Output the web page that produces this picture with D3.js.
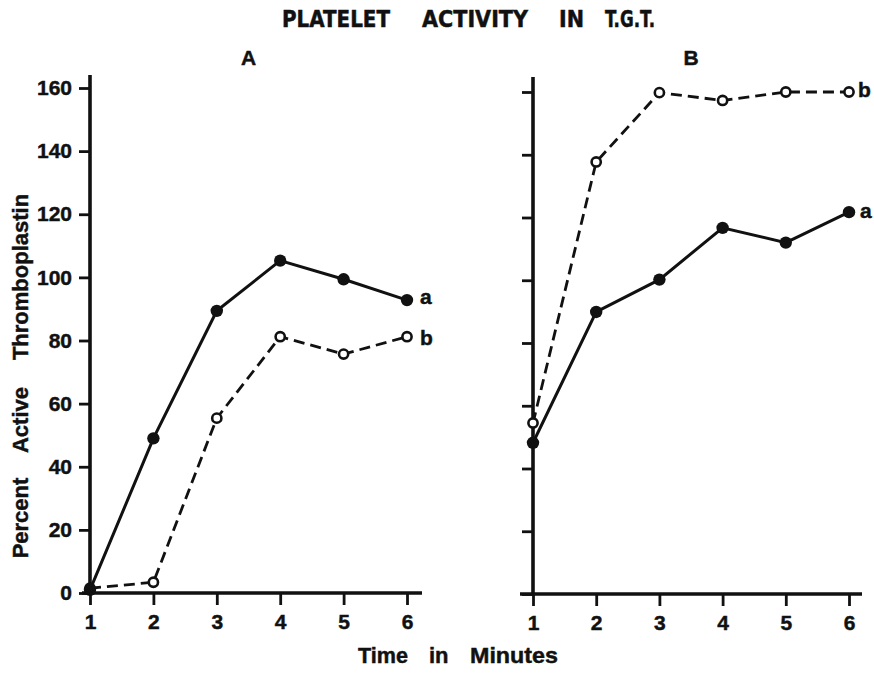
<!DOCTYPE html>
<html>
<head>
<meta charset="utf-8">
<script src="https://cdn.jsdelivr.net/npm/d3@7"></script>
<style>
  html, body { margin: 0; padding: 0; background: #fff; }
  svg { display: block; }
  text { fill: #111; stroke: #111; stroke-width: 0.45px; font-family: "Liberation Sans", Arial, Helvetica, sans-serif; font-weight: bold; }
</style>
</head>
<body>
<svg id="chart" width="874" height="676"></svg>
<script>
// Time (minutes) at which each sample was taken
const minutes = [1, 2, 3, 4, 5, 6];
const yTicks = [0, 20, 40, 60, 80, 100, 120, 140, 160];

// Percent active thromboplastin, panel A
const panelA_a = [1.0, 49.0, 89.4, 105.3, 99.4, 92.8];
const panelA_b = [1.5, 3.4, 55.4, 81.2, 75.7, 81.2];

// Percent active thromboplastin, panel B
const panelB_a = [48.2, 89.9, 100.2, 116.7, 112.0, 121.7];
const panelB_b = [54.5, 137.7, 159.8, 157.3, 160.0, 160.0];

const titleWords = ["PLATELET", "ACTIVITY", "IN", "T.G.T."];
const xLabelWords = ["Time", "in", "Minutes"];
const yLabelWords = ["Percent", "Active", "Thromboplastin"];

const svg = d3.select("#chart");
const ink = "#111";

// Title, word by word with wide spacing (width given only for the long words)
const titlePos = [[282, 108], [422, 106], [559, null], [605, 50]];
titleWords.forEach((w, i) => {
  const t = svg.append("text")
    .attr("x", titlePos[i][0]).attr("y", 27)
    .style("font-family", "'Liberation Sans Narrow', 'DejaVu Sans Condensed', Arial, sans-serif")
    .style("font-size", "23px")
    .text(w);
  if (titlePos[i][1]) t.attr("textLength", titlePos[i][1]).attr("lengthAdjust", "spacingAndGlyphs");
});

// X axis title
const xLabPos = [[358, 50], [429, null], [470, 88]];
xLabelWords.forEach((w, i) => {
  const t = svg.append("text")
    .attr("x", xLabPos[i][0]).attr("y", 663)
    .style("font-size", "22px")
    .text(w);
  if (xLabPos[i][1]) t.attr("textLength", xLabPos[i][1]).attr("lengthAdjust", "spacingAndGlyphs");
});

// Y axis title, rotated, reading upward
const yLabPos = [518, 420, 277];
yLabelWords.forEach((w, i) => {
  svg.append("text")
    .attr("transform", `translate(28,${yLabPos[i]}) rotate(-90)`)
    .attr("text-anchor", "middle")
    .style("font-size", "22px")
    .text(w);
});

const panels = [
  { name: "A", xr: [90, 407], yr: [593, 88], axisTop: 75, xAxisExt: [82, 422], yLabels: true,
    a: panelA_a, b: panelA_b, labA: [420, 304], labB: [420, 345] },
  { name: "B", xr: [533, 849], yr: [594, 92], axisTop: 77, xAxisExt: [520, 862], yLabels: false,
    a: panelB_a, b: panelB_b, labA: [860, 218], labB: [858, 97] }
];

panels.forEach(p => {
  const x = d3.scaleLinear().domain([1, 6]).range(p.xr);
  const y = d3.scaleLinear().domain([0, 160]).range(p.yr);
  const g = svg.append("g");

  // Panel letter
  g.append("text")
    .attr("x", (p.xr[0] + p.xr[1]) / 2).attr("y", 65)
    .attr("text-anchor", "middle")
    .style("font-size", "21px")
    .text(p.name);

  // Y axis
  const yAxis = d3.axisLeft(y).tickValues(yTicks).tickSize(11).tickPadding(7)
    .tickFormat(p.yLabels ? d3.format("d") : () => "");
  const ya = g.append("g").attr("transform", `translate(${x(1)},0)`).call(yAxis);
  ya.select(".domain").remove();
  ya.selectAll(".tick line").attr("stroke", ink).attr("stroke-width", 2.8);
  ya.selectAll(".tick text").style("font-size", "21px")
    .style("font-family", "'Liberation Sans', Arial, sans-serif").attr("fill", ink);
  g.append("line")
    .attr("x1", x(1)).attr("x2", x(1))
    .attr("y1", p.axisTop).attr("y2", y(0) + 1)
    .attr("stroke", ink).attr("stroke-width", 3.6);

  // X axis
  const xAxis = d3.axisBottom(x).tickValues(minutes).tickSize(12).tickPadding(9)
    .tickFormat(d3.format("d"));
  const xa = g.append("g").attr("transform", `translate(0,${y(0)})`).call(xAxis);
  xa.select(".domain").remove();
  xa.selectAll(".tick line").attr("stroke", ink).attr("stroke-width", 2.8);
  xa.selectAll(".tick text").style("font-size", "21px")
    .style("font-family", "'Liberation Sans', Arial, sans-serif").attr("fill", ink);
  g.append("line")
    .attr("x1", p.xAxisExt[0]).attr("x2", p.xAxisExt[1])
    .attr("y1", y(0)).attr("y2", y(0))
    .attr("stroke", ink).attr("stroke-width", 3.6);

  const line = d3.line().x((d, i) => x(minutes[i])).y(d => y(d));

  // Series b: dashed with open circles
  g.append("path").datum(p.b)
    .attr("d", line).attr("fill", "none")
    .attr("stroke", ink).attr("stroke-width", 2.8)
    .attr("stroke-dasharray", "11,6");
  // Series a: solid with filled circles
  g.append("path").datum(p.a)
    .attr("d", line).attr("fill", "none")
    .attr("stroke", ink).attr("stroke-width", 3);

  g.selectAll(".ptB").data(p.b).enter().append("circle")
    .attr("cx", (d, i) => x(minutes[i])).attr("cy", d => y(d))
    .attr("r", 4.6).attr("fill", "#fff").attr("stroke", ink).attr("stroke-width", 2.6);
  g.selectAll(".ptA").data(p.a).enter().append("circle")
    .attr("cx", (d, i) => x(minutes[i])).attr("cy", d => y(d))
    .attr("r", 6.2).attr("fill", ink);

  // Series letters
  g.append("text").attr("x", p.labA[0]).attr("y", p.labA[1])
    .style("font-size", "21px").text("a");
  g.append("text").attr("x", p.labB[0]).attr("y", p.labB[1])
    .style("font-size", "21px").text("b");
});
</script>
</body>
</html>
